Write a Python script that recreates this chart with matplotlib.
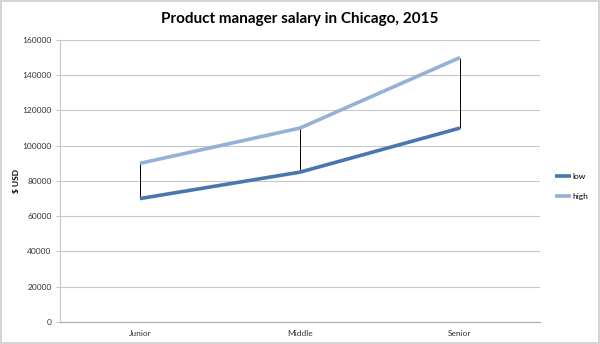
import matplotlib.pyplot as plt
import numpy as np

# data
levels = ["Junior", "Middle", "Senior"]
low = [70000, 85000, 110000]
high = [90000, 110000, 150000]
y_ticks = [0, 20000, 40000, 60000, 80000, 100000, 120000, 140000, 160000]

LOW_C = "#4a76b0"
HIGH_C = "#95b1d6"
GRID = "#c8c8c8"
TEXT = "#333333"

plt.rcParams["font.family"] = ["Lato", "DejaVu Sans"]

fig = plt.figure(figsize=(6.0, 3.44), dpi=100)
ax = fig.add_axes([0.1, 0.064, 0.8, 0.82])

x = np.arange(len(levels))

# high-low connector lines
ax.vlines(x, low, high, color="black", linewidth=0.7, zorder=2)
ax.plot(x, low, color=LOW_C, linewidth=2.6, label="low", zorder=3,
        solid_capstyle="butt")
ax.plot(x, high, color=HIGH_C, linewidth=2.6, label="high", zorder=3,
        solid_capstyle="butt")

ax.set_xlim(-0.5, len(levels) - 0.5)
ax.set_ylim(0, 160000)
ax.set_yticks(y_ticks)
ax.set_yticklabels([str(v) for v in y_ticks], fontsize=6, color=TEXT)
ax.set_xticks(x)
ax.set_xticklabels(levels, fontsize=6, color=TEXT)
ax.tick_params(axis="x", length=0, pad=6)
ax.tick_params(axis="y", length=3, color=GRID, width=0.8, pad=3)
ax.grid(axis="y", color=GRID, linewidth=0.8)
ax.set_axisbelow(True)

for s in ("top", "right"):
    ax.spines[s].set_visible(False)
ax.spines["left"].set_color(GRID)
ax.spines["bottom"].set_color("#aaaaaa")

ax.set_ylabel("$ USD", fontsize=6, fontweight="bold", color="black", labelpad=2)

fig.text(0.5, 0.945, "Product manager salary in Chicago, 2015", ha="center",
         va="center", fontsize=11, fontweight="bold", color="black")

leg = ax.legend(loc="center left", bbox_to_anchor=(1.015, 0.48), frameon=False,
                fontsize=6, handlelength=2.0, handletextpad=0.1,
                labelspacing=1.5)

# thin frame around the whole chart
border = plt.Rectangle((0.002, 0.003), 0.996, 0.994, transform=fig.transFigure,
                       fill=False, edgecolor="#cccccc", linewidth=1.2)
fig.patches.append(border)

fig.savefig("out.png", dpi=100)
